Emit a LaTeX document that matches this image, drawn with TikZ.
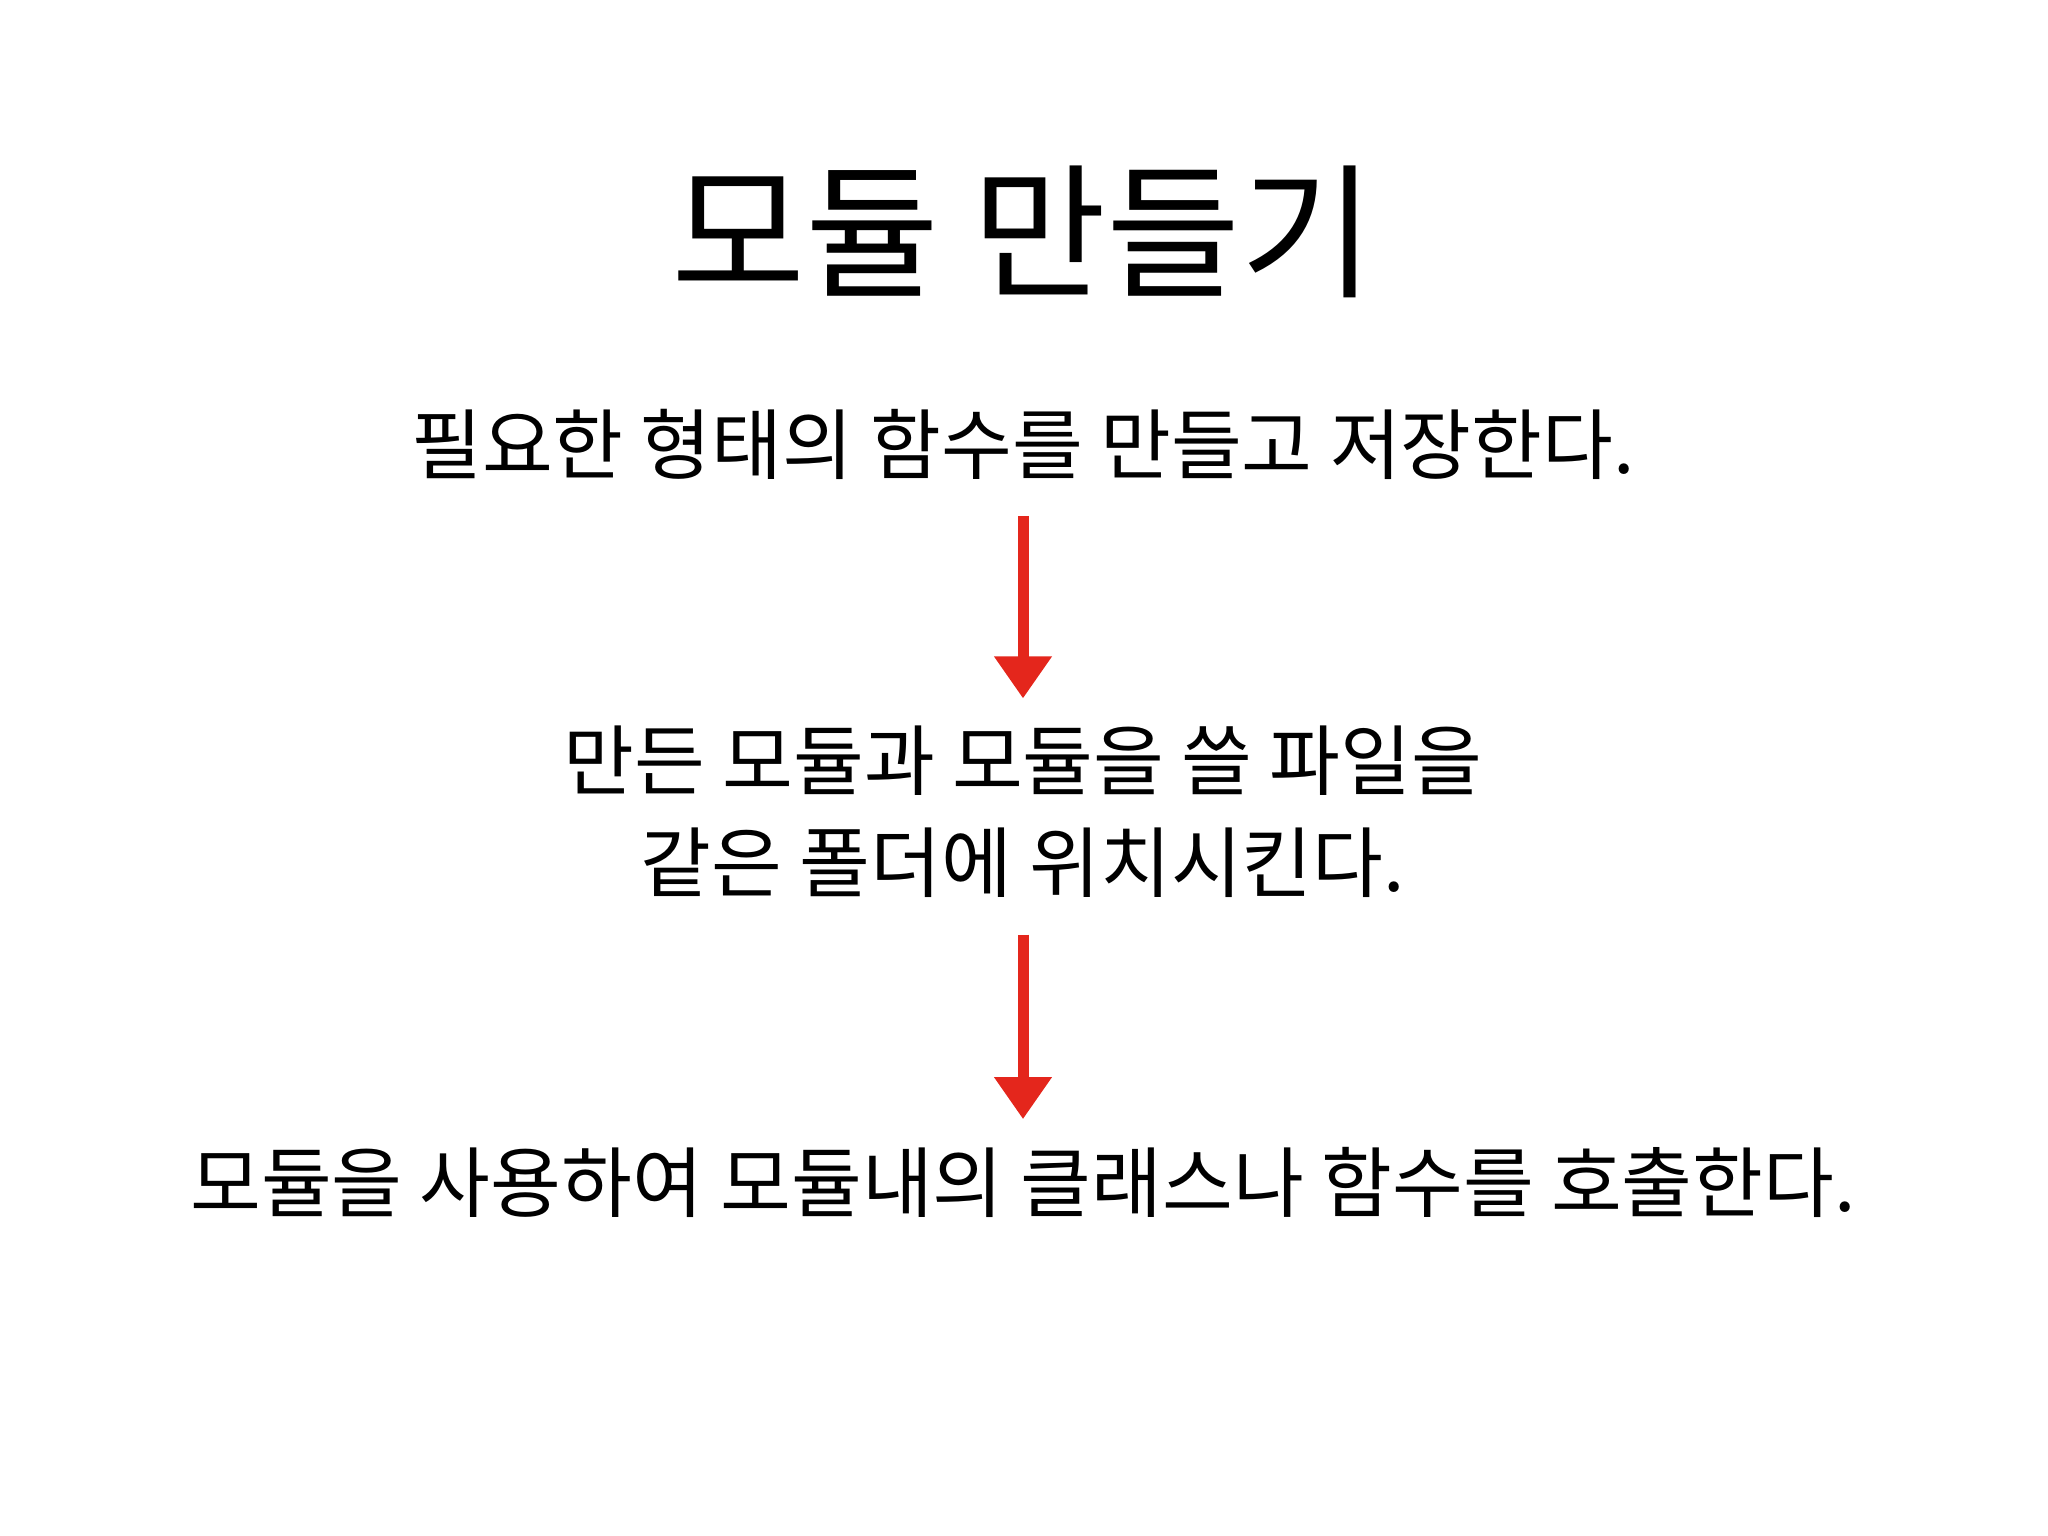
\documentclass[tikz,border=0pt]{standalone}
\usepackage{fontspec}
\setmainfont{Noto Sans CJK KR}
\usetikzlibrary{arrows.meta}
\usetikzlibrary{positioning}
\definecolor{penred}{RGB}{228,38,28}

\begin{document}
\begin{tikzpicture}[steptext/.style={inner sep=0pt, align=center, font=\fontsize{21.9pt}{29pt}\selectfont},
		flow/.style={penred, line width=0.11cm, -{Triangle[width=0.55cm, length=0.42cm]}, shorten <=0.36cm, shorten >=0.27cm}]
	\useasboundingbox (0,0) rectangle (20.48,-15.36);
	\node[inner sep=0pt, font=\fontsize{41.5pt}{48pt}\selectfont] (title) at (10.23,-2.32) {모듈 만들기};
	\node[steptext] (make) at (10.23,-4.44) {필요한 형태의 함수를 만들고 저장한다.};
	\node[steptext] (place) at (10.23,-8.12) {만든 모듈과 모듈을 쓸 파일을\\같은 폴더에 위치시킨다.};
	\node[steptext] (call) at (10.23,-11.82) {모듈을 사용하여 모듈내의 클래스나 함수를 호출한다.};
	\draw[flow] (make) -- (place);
	\draw[flow] (place) -- (call);
\end{tikzpicture}
\end{document}
